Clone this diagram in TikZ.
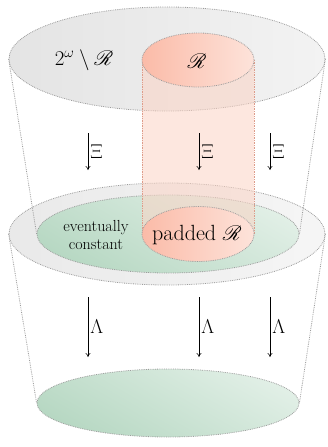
\RequirePackage{fix-cm}
\documentclass[tikz,border=0pt]{standalone}
\usepackage{mathrsfs}
\usetikzlibrary{shapes.geometric,arrows.meta}
\definecolor{bordergray}{HTML}{9C9C9C}
\definecolor{greydark}{HTML}{E4E4E4}
\definecolor{greylight}{HTML}{F3F3F3}
\definecolor{reddark}{HTML}{FBBBA8}
\definecolor{redlight}{HTML}{FDE3DA}
\definecolor{greendark}{HTML}{B7D8C3}
\definecolor{greenlight}{HTML}{E1EFE6}
\definecolor{colfill}{HTML}{FBD3C4}
\definecolor{coledge}{HTML}{DE9C8A}
\tikzset{
  disc/.style={ellipse, inner sep=0pt, draw=bordergray, densely dotted, line width=0.8pt},
  greydisc/.style={disc, left color=greydark, right color=greylight},
  reddisc/.style={disc, left color=reddark, right color=redlight},
  greendisc/.style={disc, shading=axis, top color=greenlight, bottom color=greendark, shading angle=-30},
  guide/.style={draw=bordergray, densely dotted, line width=0.8pt},
  maparrow/.style={-{To[length=4pt,width=5pt]}, line width=0.55pt},
  maplabel/.style={right, inner sep=2pt, font=\fontsize{20}{22}\selectfont}
}
\begin{document}
\begin{tikzpicture}[x=1pt,y=-1pt]
\useasboundingbox (0,0) rectangle (327,447);
% top layer
\node[greydisc, minimum width=316pt, minimum height=104pt] (top) at (167,59) {};
% middle layer
\node[greydisc, minimum width=316pt, minimum height=102pt, fill opacity=0.8] (mid) at (167,234) {};
\node[greendisc, minimum width=262pt, minimum height=78pt] (midgreen) at (168,234) {};
% column
\coordinate (colTL) at (142,60);
\coordinate (colTR) at (254,60);
\coordinate (colBL) at (142,234);
\coordinate (colBR) at (254,234);
\fill[colfill, fill opacity=0.55] (colTL) rectangle (colBR);
\draw[draw=coledge, densely dotted, line width=0.7pt] (colTL) -- (colBL) (colTR) -- (colBR);
% R discs
\node[reddisc, minimum width=112pt, minimum height=54pt] (R) at (198,60) {};
\node[reddisc, minimum width=112pt, minimum height=55pt] (padR) at (198,234) {};
% bottom layer
\node[greendisc, minimum width=262pt, minimum height=68pt] (bottom) at (168,403) {};
% frustum guides
\draw[guide] (top.west) -- (midgreen.west);
\draw[guide] (top.east) -- (midgreen.east);
\draw[guide] (mid.west) -- (bottom.west);
\draw[guide] (mid.east) -- (bottom.east);
% texts
\node[font=\fontsize{21}{24}\selectfont] (tl) at (84,60) {$2^\omega\setminus\mathscr{R}$};
\node[font=\fontsize{21}{24}\selectfont] (tr) at (197,61) {$\mathscr{R}$};
\node[font=\fontsize{22}{25}\selectfont] (pr) at (197,235) {padded $\mathscr{R}$};
\node[align=center, font=\fontsize{16}{18}\selectfont] (ec) at (96,235) {eventually\\constant};
% Xi and Lambda arrows
\foreach \x/\n in {88/a,199/b,270/c}{
  \coordinate (xs\n) at (\x,133);
  \coordinate (xe\n) at (\x,170);
  \draw[maparrow] (xs\n) -- (xe\n) node[midway, maplabel] {$\Xi$};
  \coordinate (ls\n) at (\x,297);
  \coordinate (le\n) at (\x,357);
  \draw[maparrow] (ls\n) -- (le\n) node[midway, maplabel] {$\Lambda$};
}
\end{tikzpicture}
\end{document}
